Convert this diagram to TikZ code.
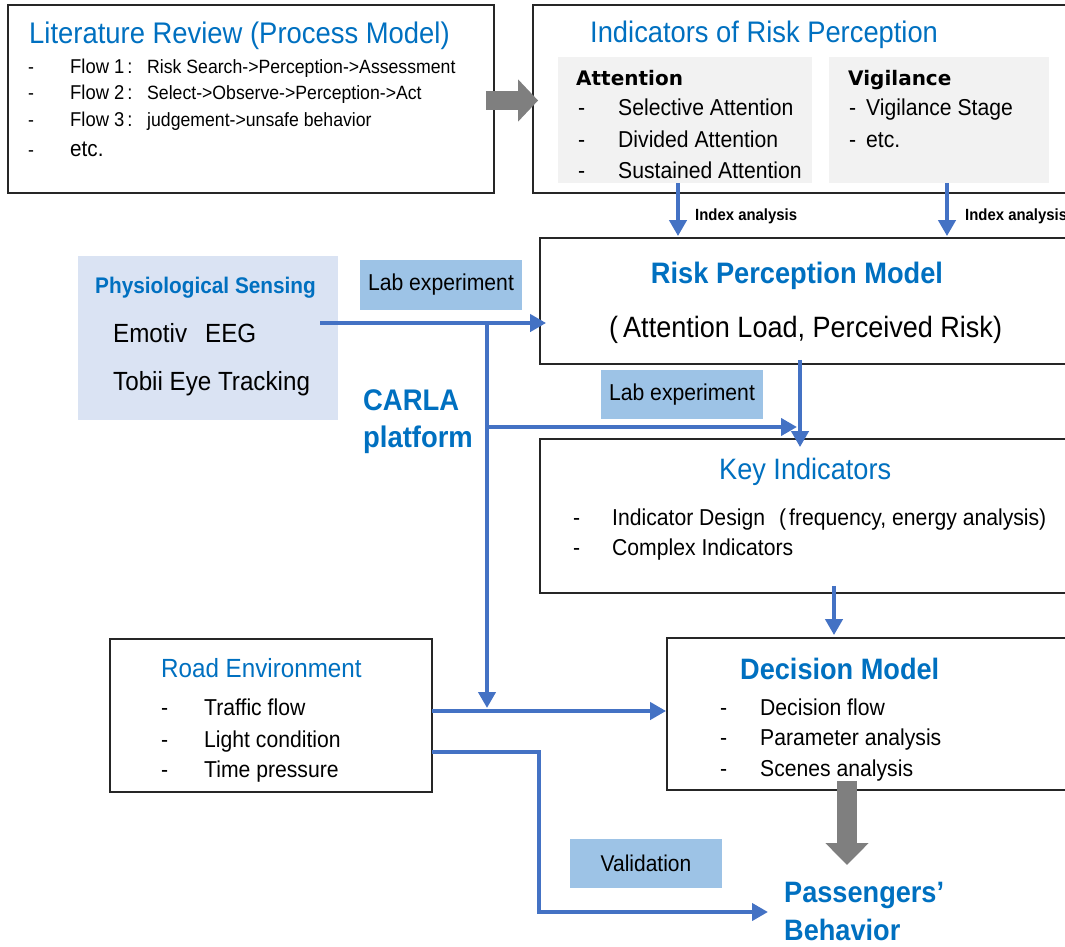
\documentclass[tikz,border=0pt]{standalone}
\usepackage{fontspec}
\setmainfont{Liberation Sans}[FakeStretch=0.92]
\newfontfamily\dvfont{DejaVu Sans}
\usetikzlibrary{arrows.meta,calc,fit}
\definecolor{tblue}{HTML}{0070C0}
\definecolor{ablue}{HTML}{4472C4}
\definecolor{pfill}{HTML}{DAE3F3}
\definecolor{lfill}{HTML}{9DC3E6}
\definecolor{gfill}{HTML}{F2F2F2}
\definecolor{garrow}{HTML}{7F7F7F}
\definecolor{bord}{HTML}{262626}
\newcommand{\fs}[1]{\fontsize{#1}{#1}\selectfont}
\newcommand{\itm}[2][40pt]{\makebox[#1][l]{-}#2}
\begin{document}
\begin{tikzpicture}[x=1pt,y=-1pt,
  box/.style={draw=bord,line width=1.8pt,inner sep=0pt},
  gbox/.style={fill=gfill,inner sep=0pt},
  pbox/.style={fill=pfill,inner sep=0pt},
  lbox/.style={fill=lfill,inner sep=0pt,font=\fs{23}},
  txt/.style={anchor=base west,inner sep=0pt},
  title/.style={txt,text=tblue,font=\fs{29.7}},
  btitle/.style={txt,text=tblue,font=\fs{29.6}\bfseries},
  item/.style={txt,font=\fs{23}},
  barrow/.style={draw=ablue,line width=4.5pt,-{Triangle[length=16pt,width=17pt]}},
  garr/.style={draw=garrow,line width=20pt}
]
\useasboundingbox (0,0) rectangle (1065,947);
\clip (0,0) rectangle (1065,947);

% ---------- boxes ----------
\node[box,fit={(8,5) (494,193)}] (lit) {};
\node[box,fit={(533,5) (1080,193)}] (ind) {};
\node[gbox,fit={(558,57) (812,183)}] (att) {};
\node[gbox,fit={(829,57) (1049,183)}] (vig) {};
\node[box,fit={(540,238) (1080,364)}] (rpm) {};
\node[pbox,fit={(78,256) (338,420)}] (phys) {};
\node[lbox,fit={(360,260) (522,310)}] (lab1) {};
\node[lbox,fit={(601,370) (763,419)}] (lab2) {};
\node[box,fit={(540,439) (1080,593)}] (key) {};
\node[box,fit={(110,639) (432,792)}] (road) {};
\node[box,fit={(667,638) (1080,790)}] (dec) {};
\node[lbox,fit={(570,839) (722,888)}] (val) {};

% ---------- texts ----------
\node[title,font=\fs{29.8}] (litT) at (29,44) {Literature Review (Process Model)};
\node[txt,font=\fs{19.2}] (lit1) at (28,74) {\itm[42pt]{\makebox[77pt][l]{\fs{20}Flow 1\hspace{3pt}:}Risk Search->Perception->Assessment}};
\node[txt,font=\fs{19.2}] (lit2) at (28,100) {\itm[42pt]{\makebox[77pt][l]{\fs{20}Flow 2\hspace{3pt}:}Select->Observe->Perception->Act}};
\node[txt,font=\fs{19.2}] (lit3) at (28,127) {\itm[42pt]{\makebox[77pt][l]{\fs{20}Flow 3\hspace{3pt}:}judgement->unsafe behavior}};
\node[txt,font=\fs{19.2}] (lit4) at (28,157) {\itm[42pt]{\fs{22.5}etc.}};

\node[title] (indT) at (590,43) {Indicators of Risk Perception};
\node[txt,font=\dvfont\bfseries\fs{20}] (attT) at (576,86) {Attention};
\node[item] (att1) at (578,116) {\itm{Selective Attention}};
\node[item] (att2) at (578,147) {\itm{Divided Attention}};
\node[item] (att3) at (578,178) {\itm{Sustained Attention}};
\node[txt,font=\dvfont\bfseries\fs{20}] (vigT) at (848,86) {Vigilance};
\node[item] (vig1) at (849,116) {\itm[17pt]{Vigilance Stage}};
\node[item] (vig2) at (849,147) {\itm[17pt]{etc.}};

\node[txt,font=\fs{16.2}\bfseries] (ia1) at (695,220) {Index analysis};
\node[txt,font=\fs{16.2}\bfseries] (ia2) at (965,220) {Index analysis};

\node[btitle,anchor=base] (rpmT) at (797,283) {Risk Perception Model};
\node[txt,font=\fs{29.4}] (rpm1) at (609,337) {(\hspace{5pt}Attention Load, Perceived Risk)};

\node[txt,text=tblue,font=\fs{22.6}\bfseries] (physT) at (95,293) {Physiological Sensing};
\node[txt,font=\fs{26.3}] (phys1) at (113,342) {Emotiv\hspace{18pt}EEG};
\node[txt,font=\fs{26.3}] (phys2) at (113,390) {Tobii Eye Tracking};
\node[inner sep=0pt,font=\fs{23}] (lab1T) at (lab1) {Lab experiment};
\node[inner sep=0pt,font=\fs{23}] (lab2T) at (lab2) {Lab experiment};

\node[btitle,font=\fs{29.8}\bfseries] (carla1) at (363,410) {CARLA};
\node[btitle,font=\fs{29.8}\bfseries] (carla2) at (363,447) {platform};

\node[title,font=\fs{29.5}] (keyT) at (719,479) {Key Indicators};
\node[item] (key1) at (573,525) {\itm[39pt]{Indicator Design\hspace{14pt}(\hspace{3pt}frequency, energy analysis)}};
\node[item] (key2) at (573,555) {\itm[39pt]{Complex Indicators}};

\node[title,font=\fs{26.3}] (roadT) at (161,677) {Road Environment};
\node[item] (road1) at (161,715) {\itm[43pt]{Traffic flow}};
\node[item] (road2) at (161,747) {\itm[43pt]{Light condition}};
\node[item] (road3) at (161,777) {\itm[43pt]{Time pressure}};

\node[btitle,font=\fs{29.5}\bfseries] (decT) at (740,679) {Decision Model};
\node[item] (dec1) at (720,715) {\itm{Decision flow}};
\node[item] (dec2) at (720,745) {\itm{Parameter analysis}};
\node[item] (dec3) at (720,776) {\itm{Scenes analysis}};

\node[inner sep=0pt,font=\fs{22.8}] (valT) at (val) {Validation};

\node[btitle,font=\fs{29.5}\bfseries] (pas1) at (784,902) {Passengers’};
\node[btitle,font=\fs{29.5}\bfseries] (pas2) at (784,940) {Behavior};

% ---------- connectors ----------
% gray block arrow lit -> ind
\draw[garr,line width=19.5pt,-{Triangle[length=20pt,width=41pt]}]
  ([xshift=-9pt,yshift=-1.5pt]lit.east) -- ([xshift=6pt,yshift=-1.5pt]ind.west);

% index analysis arrows
\draw[barrow] ([xshift=-7pt]att.south) -- ([xshift=-7pt,yshift=1pt]att.south |- rpm.north);
\draw[barrow] ([xshift=8pt]vig.south) -- ([xshift=8pt,yshift=1pt]vig.south |- rpm.north);

% physiological -> risk perception model
\coordinate (p1) at (320,323);
\coordinate (j1) at (487,323);
\coordinate (j2) at (487,427);
\coordinate (r1) at (432,711);
\coordinate (r2) at (432,752);
\coordinate (c1) at (539,752);
\coordinate (c2) at (539,912);
\draw[barrow] (p1) -- ([xshift=7pt]p1 -| rpm.west);
% CARLA trunk down to road/decision line
\draw[barrow] (j1) -- ([yshift=3pt]j1 |- r1);
% branch to key indicators
\draw[barrow] (j2) -- (797,427);
% risk perception -> key indicators
\draw[barrow] ([yshift=5pt]rpm.south -| 800,0) -- ([yshift=-9pt]key.north -| 800,0);
% key -> decision
\draw[barrow] ([yshift=8pt]key.south -| 834,0) -- ([yshift=2pt]dec.north -| 834,0);
% road -> decision
\draw[barrow] (r1) -- (r1 -| dec.west);
% road -> passengers' behavior (validation)
\draw[barrow] (r2) -- (c1) -- (c2) -- ([xshift=-16pt]c2 -| pas1.west);
% decision -> passengers' behavior (gray block arrow)
\draw[garr,-{Triangle[length=22pt,width=42pt]}] ([yshift=10pt]dec.south -| 847,0) -- (847,865);
\end{tikzpicture}
\end{document}
